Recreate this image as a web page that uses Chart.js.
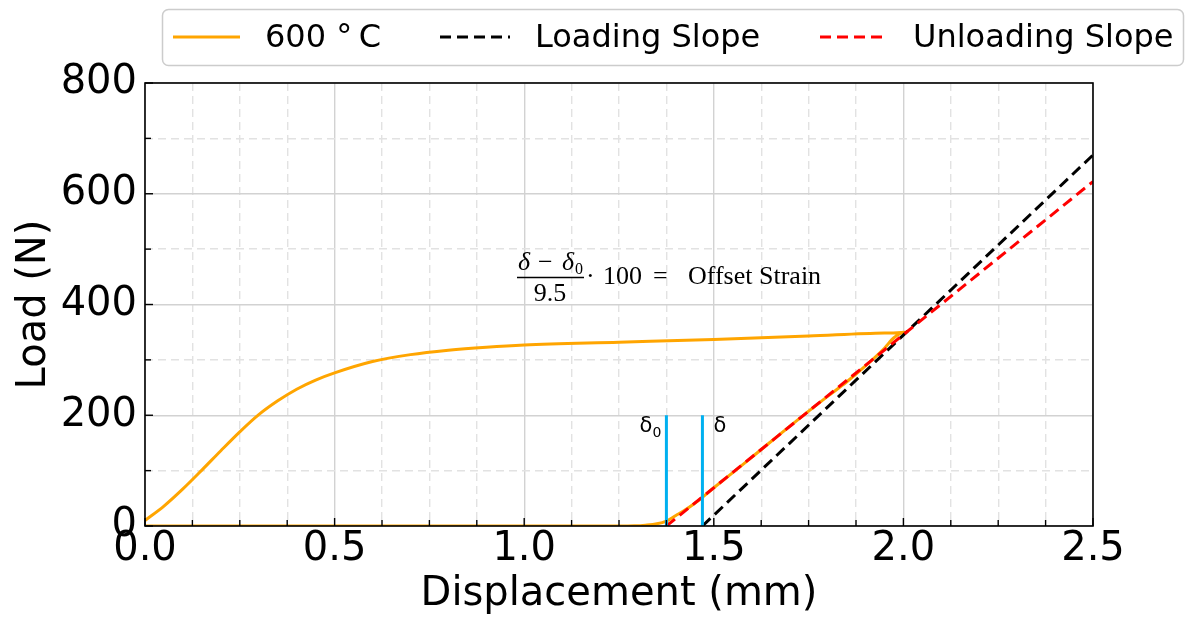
<!DOCTYPE html>
<html><head><meta charset="utf-8">
<script src="https://cdn.jsdelivr.net/npm/chart.js@4.4.1/dist/chart.umd.min.js"></script>
<style>html,body{margin:0;padding:0;background:#fff}#wrap{width:1186px;height:619px}</style>
</head><body><div id="wrap"><canvas id="c" width="1186" height="619"></canvas></div>
<script>
// ---- data ----
const seriesLabels = ['600 \u00B0\u2009C', 'Loading Slope', 'Unloading Slope'];
const curveX = [0, 0.05, 0.1, 0.15, 0.2, 0.25, 0.3, 0.35, 0.4, 0.45, 0.5, 0.6, 0.7, 0.8, 0.9, 1.0, 1.25, 1.5, 1.75, 1.95, 2.002, 1.975, 1.95, 1.9, 1.85, 1.8, 1.7, 1.6, 1.5, 1.45, 1.42, 1.4, 1.375, 1.35, 1.32, 1.29, 1.25, 0];
const curveY = [10, 36, 67, 101, 136, 170, 201, 226, 247, 263.5, 276.5, 297, 309.5, 317.5, 323, 327, 332, 337, 343, 348.5, 350, 340, 321, 289, 260, 234, 180, 124, 69, 41, 27, 19, 9, 4, 1.5, 0.3, 0, 0];
const loadingX = [1.47, 2.5];
const loadingY = [0, 670];
const unloadingX = [1.375, 2.5];
const unloadingY = [0, 622];
const deltaX = [1.375, 1.47];
const deltaY = [0, 200];
const deltaLabels = ['\u03B4', '\u03B4'];
const xTickLabels = [0, 0.5, 1.0, 1.5, 2.0, 2.5];
const yTickLabels = [0, 200, 400, 600, 800];
const xTitle = 'Displacement (mm)';
const yTitle = 'Load (N)';

const pts = (xs, ys) => xs.map((x, i) => ({x: x, y: ys[i]}));
const FONT = 'DejaVu Sans';
const isMajorX = v => xTickLabels.some(t => Math.abs(t - v) < 1e-9);
const isMajorY = v => yTickLabels.some(t => Math.abs(t - v) < 1e-9);

const decor = {
  id: 'decor',
  afterDraw(chart) {
    const c = chart.ctx, a = chart.chartArea;
    const xs = chart.scales.x, ys = chart.scales.y;
    c.save();
    // frame
    c.strokeStyle = '#000'; c.lineWidth = 1.6;
    c.strokeRect(a.left, a.top, a.right - a.left, a.bottom - a.top);
    // inward ticks
    c.lineWidth = 1.4;
    xs.ticks.forEach(t => {
      const p = xs.getPixelForValue(t.value);
      const len = isMajorX(t.value) ? 8 : 6;
      c.beginPath(); c.moveTo(p, a.bottom); c.lineTo(p, a.bottom - len); c.stroke();
    });
    ys.ticks.forEach(t => {
      const p = ys.getPixelForValue(t.value);
      const len = isMajorY(t.value) ? 8 : 6;
      c.beginPath(); c.moveTo(a.left, p); c.lineTo(a.left + len, p); c.stroke();
    });
    // delta labels
    c.fillStyle = '#000';
    c.textBaseline = 'alphabetic';
    const d0 = xs.getPixelForValue(deltaX[0]);
    const d1 = xs.getPixelForValue(deltaX[1]);
    const ly = ys.getPixelForValue(170);
    c.font = '21px ' + FONT;
    c.textAlign = 'right';
    c.fillText(deltaLabels[0], d0 - 14, ly);
    c.font = '14px ' + FONT;
    c.textAlign = 'left';
    c.fillText('0', d0 - 14, ly + 5);
    c.font = '21px ' + FONT;
    c.fillText(deltaLabels[1], d1 + 11, ly);
    // formula
    const SER = '"Liberation Serif", "DejaVu Serif", serif';
    c.textAlign = 'left';
    c.font = 'italic 26px ' + SER;
    c.fillText('\u03B4', 518, 270);
    c.font = '26px ' + SER;
    c.fillText('\u2212', 538, 270);
    c.font = 'italic 26px ' + SER;
    c.fillText('\u03B4', 562, 270);
    c.font = '16px ' + SER;
    c.fillText('0', 575, 274);
    c.lineWidth = 1.3;
    c.beginPath(); c.moveTo(517, 277.5); c.lineTo(584, 277.5); c.stroke();
    c.font = '26px ' + SER;
    c.textAlign = 'center';
    c.fillText('9.5', 550, 301);
    c.textAlign = 'left';
    c.fillText('\u00B7', 586, 284);
    c.fillText('100', 603, 284);
    c.fillText('=', 653, 284);
    c.fillText('Offset Strain', 688, 284);
    // legend
    c.fillStyle = '#fff';
    c.strokeStyle = '#cccccc'; c.lineWidth = 1.5;
    c.beginPath();
    c.roundRect(162.5, 9.5, 1021, 56, 6);
    c.fill(); c.stroke();
    const lx = [173, 440, 820], tx = [265, 535, 913], lw = [67, 70, 68];
    const ly2 = 37;
    for (let i = 0; i < 3; i++) {
      const ds = chart.data.datasets[i];
      c.strokeStyle = ds.borderColor; c.lineWidth = ds.borderWidth;
      c.setLineDash(ds.borderDash || []);
      c.beginPath(); c.moveTo(lx[i], ly2); c.lineTo(lx[i] + lw[i], ly2); c.stroke();
      c.setLineDash([]);
      c.fillStyle = '#000';
      c.font = '32px ' + FONT;
      c.textBaseline = 'middle';
      c.fillText(ds.label, tx[i], ly2 + 2);
    }
    c.restore();
  }
};

new Chart(document.getElementById('c'), {
  type: 'scatter',
  data: {
    datasets: [
      {label: seriesLabels[0], data: pts(curveX, curveY), showLine: true, borderColor: '#FFA500', borderWidth: 3, pointRadius: 0, cubicInterpolationMode: 'monotone', order: 3, borderJoinStyle: 'round'},
      {label: seriesLabels[1], data: pts(loadingX, loadingY), showLine: true, borderColor: '#000000', borderWidth: 3, borderDash: [11, 6], pointRadius: 0, order: 2},
      {label: seriesLabels[2], data: pts(unloadingX, unloadingY), showLine: true, borderColor: '#FF0000', borderWidth: 3, borderDash: [11, 6], pointRadius: 0, order: 1},
      {label: 'delta0', data: pts([deltaX[0], deltaX[0]], deltaY), showLine: true, borderColor: '#00B0F0', borderWidth: 3, pointRadius: 0, order: 0},
      {label: 'delta', data: pts([deltaX[1], deltaX[1]], deltaY), showLine: true, borderColor: '#00B0F0', borderWidth: 3, pointRadius: 0, order: 0}
    ]
  },
  options: {
    responsive: false, animation: false,
    layout: {padding: {top: 83, right: 93, left: 0, bottom: 0}},
    plugins: {legend: {display: false}, tooltip: {enabled: false}},
    scales: {
      x: {
        type: 'linear', min: 0, max: 2.5,
        afterBuildTicks: s => { const t = []; for (let i = 0; i <= 20; i++) t.push({value: i * 0.125}); s.ticks = t; },
        afterFit: s => { s.height = 93; },
        ticks: {autoSkip: false, maxRotation: 0, padding: 0, color: '#000', font: {family: FONT, size: 40},
          callback: v => isMajorX(v) ? v.toFixed(1) : ''},
        grid: {drawTicks: false, lineWidth: 1.4,
          color: ctx => (ctx.tick && isMajorX(ctx.tick.value)) ? '#d2d2d2' : '#e2e2e2'},
        border: {display: false, dash: ctx => (ctx.tick && !isMajorX(ctx.tick.value)) ? [8, 5] : []},
        title: {display: true, text: xTitle, color: '#000', font: {family: FONT, size: 40}, padding: {top: 0, bottom: 0}}
      },
      y: {
        type: 'linear', min: 0, max: 800,
        afterBuildTicks: s => { const t = []; for (let i = 0; i <= 8; i++) t.push({value: i * 100}); s.ticks = t; },
        afterFit: s => { s.width = 145; },
        ticks: {autoSkip: false, padding: 8, color: '#000', font: {family: FONT, size: 40},
          callback: v => isMajorY(v) ? String(v) : ''},
        grid: {drawTicks: false, lineWidth: 1.4,
          color: ctx => (ctx.tick && isMajorY(ctx.tick.value)) ? '#d2d2d2' : '#e2e2e2'},
        border: {display: false, dash: ctx => (ctx.tick && !isMajorY(ctx.tick.value)) ? [8, 5] : []},
        title: {display: true, text: yTitle, color: '#000', font: {family: FONT, size: 40}, padding: {top: 11, bottom: 0}}
      }
    }
  },
  plugins: [decor]
});
</script>
</body></html>
